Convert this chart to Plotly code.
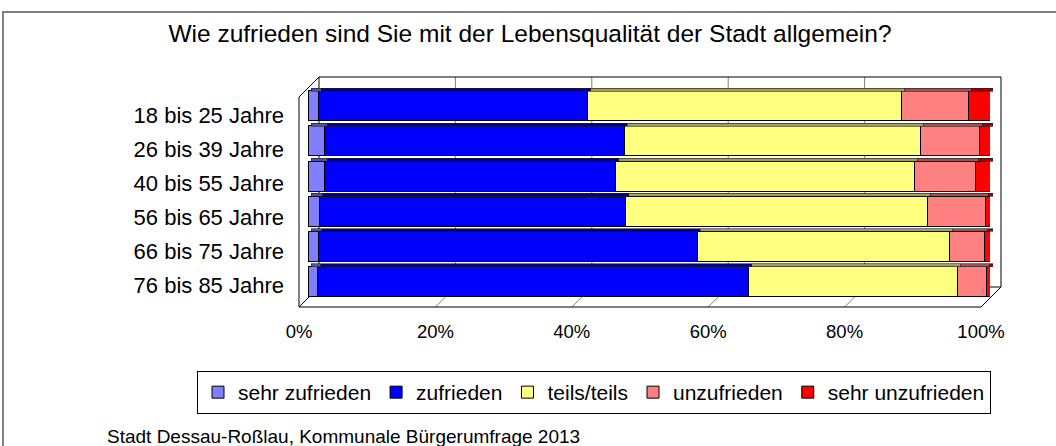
import plotly.graph_objects as go

categories = ["18 bis 25 Jahre", "26 bis 39 Jahre", "40 bis 55 Jahre",
              "56 bis 65 Jahre", "66 bis 75 Jahre", "76 bis 85 Jahre"]
series_names = ["sehr zufrieden", "zufrieden", "teils/teils", "unzufrieden", "sehr unzufrieden"]
sehr_zufrieden = [1.5, 2.4, 2.4, 1.7, 1.6, 1.4]
zufrieden = [39.5, 44.0, 42.7, 44.9, 55.5, 63.2]
teils_teils = [46.0, 43.4, 43.8, 44.3, 36.9, 30.6]
unzufrieden = [9.8, 8.7, 9.0, 8.4, 5.2, 4.3]
sehr_unzufrieden = [3.2, 1.5, 2.1, 0.7, 0.8, 0.5]
tick_values = [0, 20, 40, 60, 80, 100]
colors = ["#8080FF", "#0000FF", "#FFFF80", "#FF8080", "#FF0000"]
top_colors = ["#5050A0", "#000090", "#A0A050", "#A05050", "#A00000"]

W, H = 1056, 446
def px(x):
    return x / W
def py(y):
    return 1 - y / H

FONT = "Liberation Sans, Arial, sans-serif"
series_values = [sehr_zufrieden, zufrieden, teils_teils, unzufrieden, sehr_unzufrieden]

fig = go.Figure()
for name, vals, col in zip(series_names, series_values, colors):
    fig.add_trace(go.Bar(
        y=categories, x=vals, name=name, orientation="h",
        marker=dict(color=col, line=dict(color="#000000", width=1)),
        xaxis="x", yaxis="y", hoverinfo="x+y+name",
    ))
# 3D top faces of the bars (same data, thin bars on a slightly shifted axis pair)
BAR_W = 0.853
FACE_W = 0.085
for name, vals, col in zip(series_names, series_values, top_colors):
    fig.add_trace(go.Bar(
        y=categories, x=vals, name=name, orientation="h",
        width=[FACE_W] * len(categories), offset=-BAR_W / 2 - FACE_W,
        marker=dict(color=col, line=dict(color="#202020", width=0.6)),
        xaxis="x3", yaxis="y3", showlegend=False, hoverinfo="skip",
    ))
# empty carrier trace so the label axes (x2/y2) are drawn
fig.add_trace(go.Scatter(x=[None], y=[None], xaxis="x2", yaxis="y2", mode="markers",
                         showlegend=False, hoverinfo="skip"))

shapes = []
def line(x0, y0, x1, y1, color="#000000", width=1, layer="below"):
    shapes.append(dict(type="line", xref="paper", yref="paper",
                       x0=px(x0), y0=py(y0), x1=px(x1), y1=py(y1),
                       line=dict(color=color, width=width), layer=layer))

# 3D frame geometry (front plane / back plane)
fx0, fx1, fy_bot, fy_top = 299, 981, 307, 97
dx, dy = 20, -20
bx0, bx1 = fx0 + dx, fx1 + dx
for f in [0.2, 0.4, 0.6, 0.8]:
    xb = bx0 + f * (bx1 - bx0)
    line(xb, fy_top + dy, xb, fy_bot + dy, color="#808080")
    xf = fx0 + f * (fx1 - fx0)
    line(xf, fy_bot, xb, fy_bot + dy, color="#808080")
shapes.append(dict(type="rect", xref="paper", yref="paper",
                   x0=px(bx0), y0=py(fy_bot + dy), x1=px(bx1), y1=py(fy_top + dy),
                   line=dict(color="#000000", width=1), layer="below"))
line(fx0, fy_top, bx0, fy_top + dy)
line(fx0, fy_top, fx0, fy_bot)
line(fx0, fy_bot, bx0, fy_bot + dy)
line(fx0, fy_bot, fx1, fy_bot)
line(fx1, fy_bot, bx1, fy_bot + dy)
# outer border
shapes.append(dict(type="rect", xref="paper", yref="paper",
                   x0=px(3), y0=py(12), x1=px(1070), y1=py(460),
                   line=dict(color="#808080", width=2), layer="above"))

hidden = dict(showticklabels=False, showgrid=False, zeroline=False, showline=False,
              automargin=False, fixedrange=True)
fig.update_layout(
    width=W, height=H, autosize=False,
    margin=dict(l=0, r=0, t=0, b=0, pad=0, autoexpand=False),
    paper_bgcolor="white", plot_bgcolor="rgba(0,0,0,0)",
    barmode="stack", bargap=1 - BAR_W,
    font=dict(family=FONT, color="#000000", size=18),
    title=dict(text="Wie zufrieden sind Sie mit der Lebensqualität der Stadt allgemein?",
               x=px(530), y=py(33), xanchor="center", yanchor="middle",
               font=dict(size=24.5, family=FONT, color="#000000")),
    xaxis=dict(domain=[px(308), px(990)], range=[0, 100], anchor="y", **hidden),
    yaxis=dict(domain=[py(299.1), py(88.1)], type="category", categoryorder="array",
               categoryarray=categories, autorange="reversed", anchor="x", **hidden),
    xaxis3=dict(domain=[px(311), px(993)], range=[0, 100], anchor="y3", **hidden),
    yaxis3=dict(domain=[py(299.1), py(88.1)], type="category", categoryorder="array",
                categoryarray=categories, autorange="reversed", anchor="x3", **hidden),
    xaxis2=dict(domain=[px(fx0), px(fx1)], range=[0, 100], tickvals=tick_values,
                ticktext=[f"{v}%" for v in tick_values], showgrid=False, zeroline=False,
                showline=False, ticks="", anchor="y2", ticklabelstandoff=16,
                tickfont=dict(size=18.5), automargin=False),
    yaxis2=dict(domain=[py(302), py(98)], range=[5.5, -0.5], tickvals=list(range(len(categories))),
                ticktext=categories, showgrid=False, zeroline=False, showline=False, ticks="",
                anchor="x2", ticklabelstandoff=14, tickfont=dict(size=22), automargin=False),
    legend=dict(orientation="h", x=px(197), y=py(371), xanchor="left", yanchor="top",
                bordercolor="#000000", borderwidth=1, bgcolor="white",
                font=dict(size=21, family=FONT), traceorder="normal",
                itemwidth=30, tracegroupgap=0),
    shapes=shapes,
    annotations=[dict(text="Stadt Dessau-Roßlau, Kommunale Bürgerumfrage 2013",
                      x=px(105), y=py(436), xref="paper", yref="paper",
                      xanchor="left", yanchor="middle", showarrow=False,
                      font=dict(size=19, family=FONT))],
)

fig.write_html("out.html", config={"displayModeBar": False},
               post_script="document.body.style.margin='0';document.body.style.overflow='hidden';")
